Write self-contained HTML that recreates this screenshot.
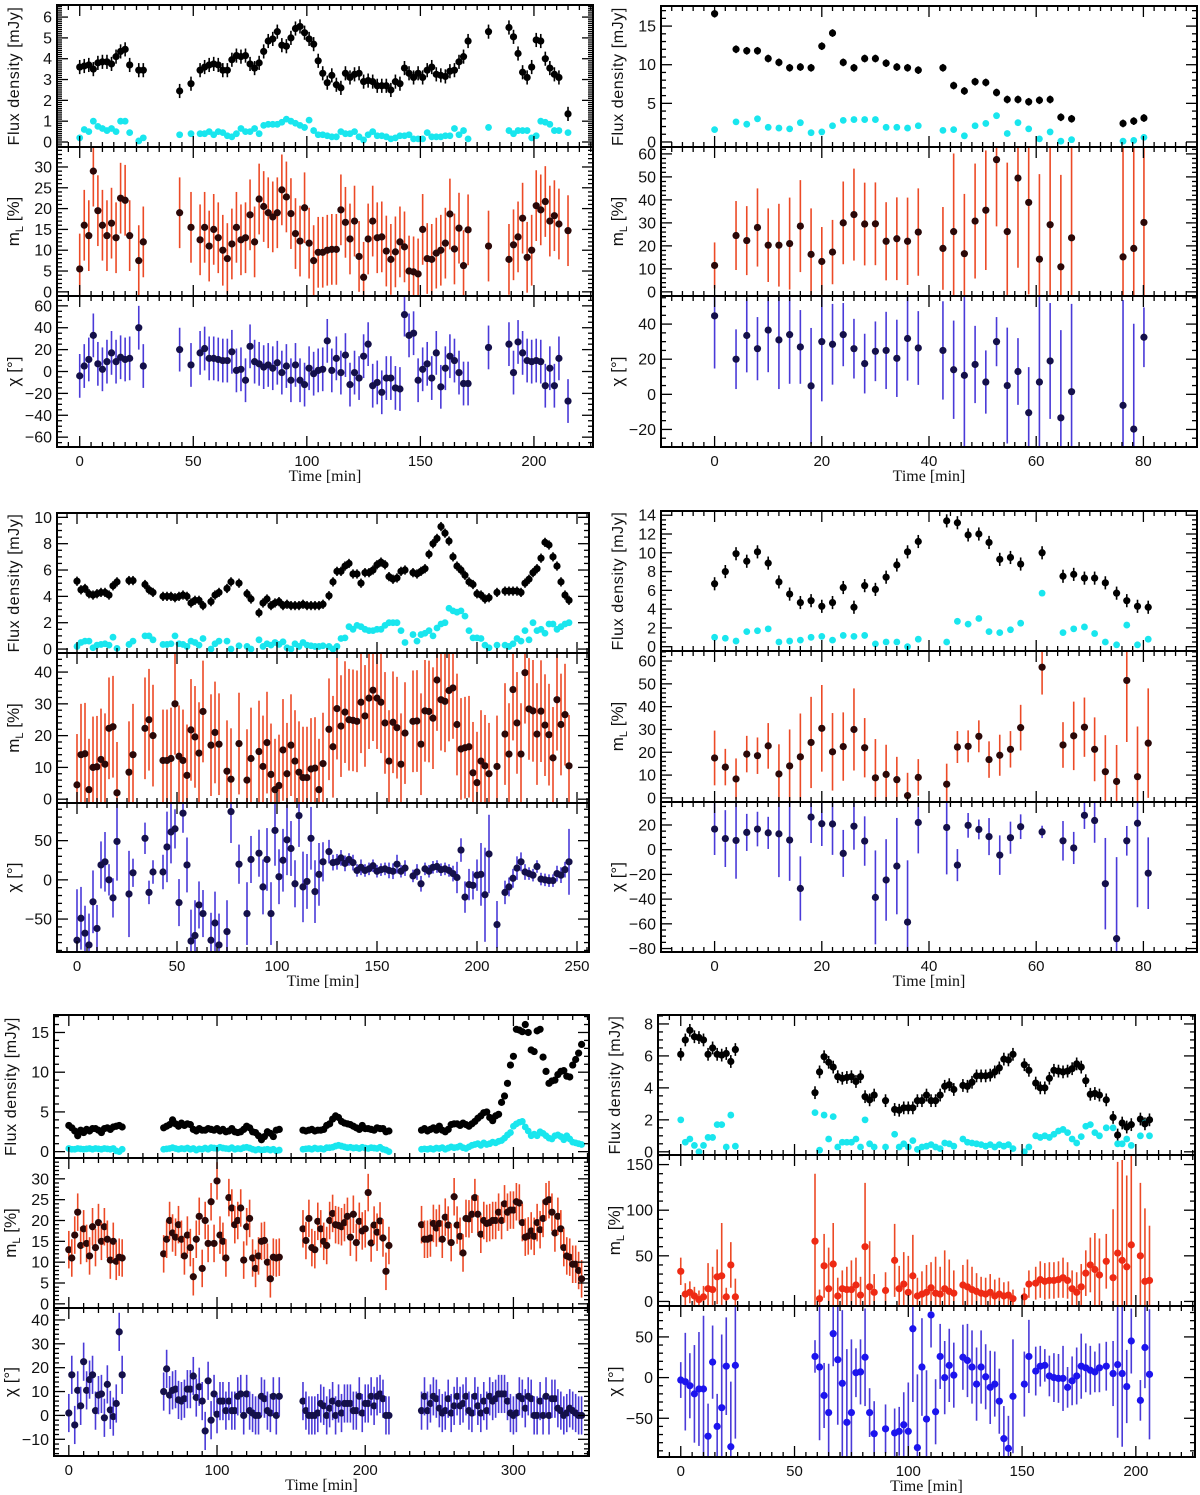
<!DOCTYPE html>
<html><head><meta charset="utf-8">
<style>
html,body{margin:0;padding:0;background:#fff;}
svg{display:block;}
text{font-family:"Liberation Sans",sans-serif;fill:#111;}
.ttl{font-family:"Liberation Serif",serif;}
</style></head>
<body>
<svg id="fig" xmlns="http://www.w3.org/2000/svg" width="1200" height="1495" viewBox="0 0 1200 1495"></svg>
<script>
// ===== Panel A (top-left) =====
const A_t=[0,2,4,6,8,10,12,14,16,18,20,22,26,28,44,49,53,55,57,59,61,63,65,67,69,71,73,75,77,79,81,83,85,87,89,91,93,95,97,99,101,103,105,107,109,111,113,115,117,119,121,123,125,127,129,131,133,135,137,139,141,143,145,147,149,151,153,155,157,159,161,163,165,167,169,171,180,189,191,193,195,197,199,201,203,205,207,209,211,215];
const A_flux=[3.6,3.65,3.7,3.5,3.8,3.85,3.85,3.75,4.1,4.35,4.45,3.7,3.45,3.45,2.45,2.8,
3.45,3.6,3.7,3.75,3.7,3.45,3.45,3.95,4.15,4.1,4.15,3.75,3.55,3.8,4.35,4.85,4.95,5.3,4.65,4.6,5.0,5.45,5.55,5.25,4.95,4.7,3.9,3.3,2.85,3.2,2.75,2.6,3.3,3.1,3.25,3.3,2.9,2.95,2.9,2.7,2.7,2.7,2.5,2.9,2.8,3.55,3.3,3.1,3.3,3.1,3.45,3.6,3.25,3.2,3.15,3.4,3.45,3.85,4.1,4.85,
5.3,5.5,5.05,4.25,3.35,3.1,3.6,4.9,4.85,4.0,3.55,3.25,3.1,1.35];
const A_pf=[0.2,0.6,0.5,1.0,0.75,0.65,0.55,0.65,0.5,1.0,1.0,0.45,0.05,0.2,0.35,0.4,
0.4,0.4,0.5,0.35,0.5,0.45,0.3,0.25,0.4,0.65,0.5,0.5,0.65,0.4,0.8,0.85,0.85,0.85,0.95,1.1,1.0,0.9,0.8,0.7,1.05,0.55,0.35,0.35,0.3,0.25,0.25,0.5,0.4,0.4,0.5,0.25,0.1,0.35,0.5,0.3,0.3,0.25,0.15,0.2,0.3,0.3,0.35,0.15,0.15,0.15,0.45,0.25,0.25,0.25,0.3,0.3,0.65,0.35,0.55,0.15,
0.7,0.55,0.4,0.55,0.55,0.55,0.2,0.3,1.0,0.95,0.85,0.55,0.55,0.45];
const A_ml=[5.5,16,13.5,29,19.5,16,13.5,16.5,13,22.5,22,13.5,7.5,12,19,15.5,
12.5,15.5,11,15,13,10,8,11.5,15.5,12.5,13,18.5,12,22.3,20.5,19,18,19,24.5,22.8,18.8,14,12.2,20.2,11.7,7.5,9.5,9.5,10,10.2,10.2,19.7,16.7,12.7,17,8.5,3.5,12.7,17,13,13.2,9.8,7.8,9.6,12,10.8,5,4.8,4.3,15,8,7.8,9.3,10,11.7,18.7,10.3,15.3,6.3,14.9,
11,7.8,11.3,13.2,17.7,8.3,10,20.7,19.7,21.7,17,18.3,16.3,14.7];
const A_chi=[-4,5,11,33,7,2,9,17,9,13,11,12,40,5,20,6,
17,21,12,12,11,10,10,18,1,2,-8,23,9,7,4,6,3,8,-1,5,-8,6,-8,-12,3,-2,1,2,28,1,12,-1,15,-12,-1,-6,14,25,-13,-10,-19,-6,-6,-15,-16,52,33,35,-8,2,7,-6,17,-14,3,14,10,-1,-11,-11,
22,25,-1,27,17,10,9,10,9,-13,3,-13,12,-27];

// ===== Panel B (top-right) =====
const B_t=[0,4,6,8,10,12,14,16,18,20,22,24,26,28,30,32,34,36,38,42.6,44.6,46.6,48.6,50.6,52.6,54.6,56.6,58.6,60.6,62.6,64.6,66.6,76.2,78.2,80.1];
const B_flux=[16.6,12.0,11.8,11.8,10.8,10.3,9.6,9.7,9.6,12.4,14.1,10.3,9.6,10.8,10.8,10.2,9.7,9.6,9.3,9.6,7.3,6.6,7.8,7.7,6.4,5.5,5.5,5.2,5.4,5.5,3.2,3.0,2.4,2.7,3.1];
const B_pf=[1.6,2.6,2.3,3.0,1.9,1.8,1.7,2.5,1.2,1.3,2.1,2.8,2.9,2.9,2.9,1.9,1.9,1.8,2.1,1.5,1.6,0.8,2.1,2.4,3.4,1.1,2.5,1.7,0.4,1.3,0.1,0.3,0.1,0.2,0.6];
const B_ml=[11.5,24.5,22.3,28,20.3,20.3,21,28.6,16.3,13.2,17.3,30,33.6,29.5,29.6,22,23.1,22,26,18.9,26.2,16.6,30.8,35.5,57.5,26.2,49.5,38.9,14.2,29.2,10.9,23.5,15.2,18.9,30.2];
const B_mlErr=[10,15,15,17,16,18,20,20,20,15,14,18,20,18,18,17,18,19,19,18,34,26,25,26,29,30,39,40,37,40,40,45,50,50,50];
const B_chi=[44.7,20,33.5,26,36.6,31,34,27,4.8,30,28.5,34,26,17.5,24.5,25,20.5,31.8,26.4,25,14,10.8,17,7,30,5,13,-10.5,7,19,-13.4,1.5,-6.3,-19.8,32.5];
const B_chiErr=[30,17,21,18,24,28,28,21,33,34,23,18,17,17,17,22,22,24,21,28,28,45,22,18,14,33,19,26,60,33,50,50,60,60,17];

// ===== Panel C (middle-left) =====
const C_t=[0,2,4,6,8,10,12,14,16,18,20,26,28,34,36,38,43,45,47,49,51,53,55,57,59,61,63,67,69,71,75,77,81,85,87,
91,93,95,97,99,101,103,105,107,109,111,113,115,117,119,121,123,
126,128,130,132,134,136,138,140,142,144,146,148,150,152,154,156,158,160,162,164,
168,170,172,174,176,178,180,182,184,186,188,190,192,194,196,198,200,202,204,206,210,
214,216,218,220,222,224,226,228,230,232,234,236,238,240,242,244,246];
const C_flux=[5.15,4.5,4.6,4.2,4.1,4.2,4.3,4.3,4.1,4.8,5.1,5.2,5.2,4.9,4.5,4.3,4.0,4.0,4.0,3.9,4.0,4.1,4.0,3.5,3.7,3.7,3.3,3.6,4.1,4.3,4.6,5.1,5.0,4.2,3.8,
2.75,3.5,3.8,3.3,3.5,3.6,3.3,3.4,3.3,3.3,3.3,3.4,3.3,3.3,3.3,3.3,3.4,
4.05,5.1,5.9,5.9,6.3,6.5,5.7,5.7,5.0,5.8,5.8,6.0,6.4,6.6,6.4,5.5,5.3,5.4,5.9,6.0,
5.8,5.7,5.9,6.1,7.2,8.0,8.4,9.3,8.8,8.2,7.0,6.3,6.0,5.6,5.1,4.9,4.2,4.1,3.8,3.9,4.3,
4.4,4.4,4.4,4.4,4.3,5.0,5.3,5.8,6.1,6.9,8.1,7.9,7.0,6.3,5.1,4.1,3.7];
const C_pf=[0.2,0.5,0.6,0.6,0.1,0.3,0.35,0.4,0.3,0.9,0.05,0.35,0.6,1.0,1.0,0.7,0.35,0.35,0.4,1.0,0.4,0.35,0.2,0.6,0.5,0.3,0.8,0.0,0.4,0.6,0.6,0.0,0.25,0.2,0.0,
0.7,0.2,0.4,0.3,0.5,0.35,0.55,0.1,0.0,0.4,0.2,0.5,0.3,0.25,0.2,0.2,0.25,
0.2,0.0,0.2,0.8,0.85,1.7,1.5,1.8,1.7,1.5,1.4,1.4,1.5,1.5,1.8,2.0,2.0,2.0,1.4,0.5,
1.1,0.6,1.1,1.2,1.4,1.0,1.6,1.9,2.0,3.1,2.9,2.8,2.9,2.5,1.4,0.85,0.85,0.8,0.3,0.1,0.3,
0.3,0.2,0.4,0.8,0.6,1.4,0.7,2.0,1.4,1.5,1.2,1.9,1.9,1.5,1.7,1.9,2.0];
const C_ml=[4.5,14,14.3,3,10,10.2,12.5,11,22.3,22.8,2,8.5,14,22.3,25,20,12.2,12.2,12.8,30,13.5,12.2,7.5,21.8,19.6,14.5,27.6,17,21,17.3,8.8,6.3,17.5,6,12.8,
15,10.3,17.8,7.8,3,4.3,15.5,8,17,12,8.5,6.8,6.8,9.5,9.8,3,11.2,
22,16.5,28.5,23,27.4,25,24.8,24.5,30.5,26.2,31.8,34.3,31.8,30.5,24,12,24.2,22.5,11,20.8,
24.5,24.6,17.3,27.8,27.6,25.5,37.5,31.3,30.8,34.2,35,23.5,15.8,16.2,16.5,8.3,5.2,12,10.5,8,10.3,
20.5,14.2,34.5,24,14.2,39.8,28.4,27.8,20.5,27.7,23.3,20.3,13,31.3,23.5,26.6,10.5];
const C_chi=[-77,-49,-68,-83,-28,-62,19,23,0,-23,49,-18,9,53,-16,10,10,42,61,65,-29,85,19,-78,-71,-32,-43,-77,-55,-83,-66,87,20,-43,26,
34,-9,26,-43,63,4,25,51,40,-5,82,-9,-2,53,-15,7,23,
36,22,23,28,21,26,22,12,16,12,14,18,11,13,14,12,11,20,11,15,
5,10,-5,14,11,16,17,13,14,12,8,3,38,-22,-6,-7,6,7,-19,33,-57,
-16,-9,2,15,23,10,8,6,17,1,0,-1,-1,8,6,13,23];
const C_chiErr=[65,40,35,40,40,30,30,38,20,25,50,55,18,20,15,15,22,45,40,25,30,25,35,40,45,30,30,35,40,40,40,40,25,40,30,
30,35,40,40,45,35,40,45,35,30,40,45,35,40,40,40,25,
15,10,10,10,10,8,10,8,10,8,8,8,8,8,8,10,10,12,8,10,
8,10,10,8,8,8,8,8,8,8,10,20,15,20,20,18,20,40,60,50,30,
15,12,12,15,12,10,8,8,8,8,8,8,8,10,10,10,42];

// ===== Panel D (middle-right) =====
const D_t=[0,2,4,6,8,10,12,14,16,18,20,22,24,26,28,30,32,34,36,38,43.3,45.3,47.3,49.3,51.2,53.2,55.2,57.1,61.1,65,67,69,70.9,72.9,75,76.9,78.9,80.9];
const D_flux=[6.7,8.0,9.9,9.1,10.1,8.9,6.9,5.6,4.7,4.9,4.3,4.7,6.3,4.2,6.5,6.1,7.4,8.7,10.1,11.2,13.4,13.2,11.9,12.0,11.1,9.3,9.5,8.8,10.0,7.5,7.7,7.3,7.3,6.8,5.7,4.9,4.3,4.2];
const D_pf=[1.0,0.9,0.6,1.6,1.7,1.9,0.5,0.6,0.7,1.0,1.1,0.7,1.2,1.1,1.2,0.3,0.5,0.5,0.0,0.8,0.5,2.7,2.4,3.0,1.6,1.5,1.8,2.5,5.7,1.5,1.9,2.1,1.4,0.5,0.2,2.3,0.2,0.8];
const D_ml=[17.5,13.5,8.3,19.2,18.5,22.8,10.5,14,18,24.3,30.5,20.2,22.5,30,22,8.8,10.3,8,1,9,6,22.3,22.6,27,16.8,18.7,21.3,30.8,57.3,23.2,27.2,31,21.3,11.5,7.2,51.5,9.3,24];
const D_mlErr=[12,8,9,8,8,10,13,16,19,20,19,17,15,18,13,17,13,10,10,8,9,7,7,7,8,9,8,10,12,10,15,13,14,16,16,27,22,24];
const D_chi=[16.7,9,7.5,14,16.7,13.6,12.8,7.8,-31.4,26.4,21,20.8,-3,19,7,-38.6,-24.5,-13.3,-58.6,22,18,-12.5,19.7,16.4,10.6,-4.4,9.7,18.6,14.4,7.2,1.4,27.8,23.6,-27.5,-72,7.2,21.4,-19];
const D_chiErr=[21,23,31,15,14,13,35,33,26,21,18,25,19,19,20,38,33,39,50,25,38,13,10,8,15,16,13,10,5,16,13,11,18,37,66,12,68,29];

// ===== Panel E (bottom-left) =====
const E_t=[0,2,4,6,8,10,12,14,16,18,20,22,24,26,28,30,32,34,36,
64,66,68,70,72,74,76,78,80,82,84,86,88,90,92,94,96,98,100,102,104,106,108,110,112,114,116,118,120,122,124,126,128,130,132,134,136,138,140,142,
158,160,162,164,166,168,170,172,174,176,178,180,182,184,186,188,190,192,194,196,198,200,202,204,206,208,210,212,214,216,
238,240,242,244,246,248,250,252,254,256,258,260,262,264,266,268,270,272,274,276,278,280,282,284,286,288,290,292,294,296,298,300,302,304,306,308,310,312,314,316,318,320,322,324,326,328,330,332,334,336,338,340,342,344,346];
const E_flux=[3.3,3.0,2.6,2.0,2.7,2.4,2.8,2.6,2.9,2.9,2.7,2.4,2.9,3.0,2.8,3.1,3.2,3.3,3.1,
3.0,3.2,3.4,4.0,3.5,3.2,3.6,3.3,3.5,3.4,2.8,2.6,2.9,2.7,2.7,2.9,2.8,2.7,2.9,2.6,2.8,2.5,2.6,2.9,2.5,2.4,2.5,2.8,3.2,3.0,2.5,2.4,2.0,1.5,1.9,2.5,2.3,1.9,2.7,2.8,
2.7,2.6,2.7,2.8,2.6,2.7,2.7,2.8,3.3,3.5,4.1,4.5,4.3,3.8,3.6,3.5,3.4,3.2,3.0,2.8,3.3,2.9,2.9,2.8,2.7,3.0,2.9,2.9,2.5,2.6,
2.7,2.9,2.6,2.8,3.0,2.7,3.2,2.7,2.5,2.8,3.4,3.5,3.5,3.3,3.6,3.4,3.2,3.5,3.8,4.2,4.5,4.9,5.0,4.3,3.9,4.5,4.7,6.2,7.0,8.6,10.9,12.0,15.4,15.3,15.1,16.0,15.0,12.8,12.6,15.2,15.4,11.9,10.1,8.6,8.9,9.0,9.7,10.1,10.2,9.5,9.4,10.9,11.6,12.4,13.5];
const E_pf=[0.4,0.3,0.3,0.4,0.35,0.3,0.35,0.4,0.3,0.4,0.35,0.3,0.4,0.35,0.3,0.4,0.1,0.0,0.3,
0.3,0.35,0.4,0.5,0.4,0.3,0.4,0.35,0.45,0.3,0.4,0.2,0.35,0.3,0.45,0.3,0.5,0.45,0.4,0.55,0.45,0.4,0.35,0.5,0.3,0.4,0.35,0.5,0.55,0.45,0.3,0.2,0.3,0.2,0.25,0.3,0.2,0.3,0.1,0.2,
0.3,0.35,0.4,0.3,0.45,0.35,0.4,0.3,0.5,0.5,0.55,0.7,0.8,0.7,0.6,0.5,0.55,0.45,0.5,0.4,0.55,0.45,0.4,0.5,0.45,0.4,0.55,0.3,0.2,0.0,
0.3,0.35,0.3,0.4,0.3,0.45,0.4,0.5,0.3,0.45,0.6,0.5,0.55,0.7,0.5,0.4,0.6,0.8,0.9,1.0,0.8,1.1,0.9,1.0,1.2,1.1,1.3,1.4,1.7,2.1,2.4,3.2,3.5,3.7,3.8,3.1,2.6,2.0,2.2,2.0,2.5,2.3,2.0,1.7,1.6,2.0,2.1,1.9,1.5,2.0,1.6,1.2,1.1,1.0,0.9];
const E_ml=[13,11,16.5,22,14,18,14.5,11.5,18.5,13.5,19.5,15,18.5,15.5,10.5,15,10.2,11.2,11,
12,15.5,20,17,16,19,15.5,11.5,16.5,13.5,6.5,15.5,21,8.5,20,14.5,24.5,14.5,29.5,16.5,15,11,25.5,23,19,20,23,10.5,18.5,20.5,11,8.5,11.5,15,15.2,10,6,11.2,11,11.2,
18,15.2,20.5,13.5,13,19.8,18,15,14,20,21.7,19,18.8,18.5,19.5,21,16,21.5,14.7,19.8,17.5,18,26.7,14.6,18.9,17.2,19.9,15.8,7.8,14,
19,15.5,15.5,15.8,19.3,18.2,19.3,15.5,20.8,18.9,14.7,25.7,18.9,16.2,12.2,20.5,20.4,21.5,25.5,21.5,16.7,20,19.3,19.5,20,20,22,20,24,22,22.5,22.5,24.5,24.2,19.5,16,16.3,17.5,16.2,19.5,17.8,20.5,24.5,25,22,17,21,18,13.5,11.5,11.2,9.5,9.5,8,6];
const E_chi=[1,17,-4,10.5,4,22.5,10.5,15,17,2,8.5,9,-1,13,2.3,-0.5,5,35,17,
10,19.5,8.5,10.5,11,6.5,6,7,11,11,16.5,7.5,12,6,-6.5,14.5,-2,9,0.5,6,6,2,6,2,2,8,9,0,9,2,1,0,0,8,7,2,1,8,0,8,
6,2,0,0,0,1,5,4,0,3,6,0,5,1,5,5,5,2,2,8,1,5,5,8,4,8,9,7,0,0,
2,8,2,5,8,7,3,1,2,7,1,4,8,4,5,8,2,1,8,4,1,6,2,8,6,7,9,9,9,6,1,0,1,8,7,3,8,7,0,0,6,0,8,0,7,7,3,2,0,1,3,2,1,0,0];

// ===== Panel F (bottom-right) =====
const F_t=[0,2,4,6,8,10,12,14,16,18,20,22,24,
59,61,63,65,67,69,71,73,75,77,79,81,83,85,90,
94,96,98,100,102,104,106,108,110,112,114,116,118,120,124,
126,128,130,132,134,136,138,140,142,144,146,151,153,156,
158,160,162,164,166,168,170,172,174,176,178,180,182,184,187,190,192,194,196,198,202,204,206];
const F_flux=[6.1,7.0,7.6,7.2,7.15,7.0,6.1,6.5,6.1,6.05,6.15,5.65,6.4,
3.7,5.0,5.95,5.6,5.3,4.7,4.6,4.65,4.7,4.4,4.7,3.45,3.25,3.55,3.2,
2.65,2.6,2.75,2.75,2.75,3.2,3.2,3.55,3.2,3.2,3.55,4.1,4.2,3.9,4.15,
4.1,4.35,4.75,4.75,4.75,4.8,5.0,5.25,5.8,5.75,6.1,5.45,5.1,4.3,
4.0,4.0,4.6,5.1,5.05,5.0,5.05,5.2,5.5,5.3,4.45,3.6,3.65,3.55,3.25,2.15,1.05,1.8,1.55,1.7,2.05,1.75,2.0];
const F_pf=[2.0,0.6,0.8,0.4,0.0,0.4,0.9,0.9,1.7,1.7,0.3,2.3,0.35,
2.45,0.1,2.3,0.8,2.2,0.3,0.6,0.6,0.6,0.8,0.3,2.0,0.5,0.3,0.3,
1.1,0.3,0.5,0.3,0.7,0.15,0.3,0.35,0.45,0.3,0.2,0.55,0.5,0.35,0.8,
0.6,0.55,0.5,0.45,0.35,0.45,0.3,0.45,0.35,0.45,0.2,0.0,0.3,1.0,
0.9,1.0,0.9,1.1,1.3,1.4,1.2,0.8,0.55,0.95,1.6,1.7,1.2,1.0,1.5,1.5,0.5,0.5,0.8,0.4,1.0,1.8,1.0];
const F_ml=[33,8,10,6,2,5,14,13,27,28,5,40,5,
66,3,39,14,41,6,14,13,13,18,7,60,16,10,12,
45,14,19,10,28,6,8,10,15,9,8,14,11,9,18,
16,13,11,9,8,10,6,8,6,7,3,5,19,20,
24,22,23,23,24,26,23,14,10,16,31,40,35,29,44,26,53,45,38,62,50,22,23];
const F_mlErr=[15,12,12,10,10,12,28,25,30,58,10,25,20,
74,10,35,45,45,20,20,25,32,30,20,70,50,20,20,
40,25,35,40,45,20,25,30,28,40,30,42,35,25,22,
30,25,20,18,18,20,18,18,15,15,10,10,15,18,
20,20,20,20,20,22,20,20,22,25,25,30,40,40,30,75,100,110,100,120,80,80,60];
const F_chi=[-3,-5,-10,-20,-14,-14,-72,19,-60,-37,14,-85,15,
26,13,-22,-43,54,22,-7,-55,-43,6,7,25,-43,-69,-63,
-68,-66,-58,-66,60,-86,13,-51,77,-42,26,0,15,3,25,
21,13,-8,13,1,-12,-8,-29,-75,-87,-23,-8,26,8,
14,15,2,0,-1,-1,-12,-4,2,14,12,9,7,12,14,5,16,5,-11,45,-28,37,4];
const F_chiErr=[22,60,40,60,70,90,40,45,40,90,60,80,90,
20,90,40,60,40,80,90,90,90,30,40,60,30,40,30,
30,30,40,60,90,90,60,60,40,40,40,45,45,40,40,
45,45,45,45,40,45,40,40,40,40,70,40,45,30,
25,20,25,30,30,40,25,30,35,40,30,30,25,30,30,40,90,90,45,40,25,50,80];

const SVGNS="http://www.w3.org/2000/svg";
const svg=document.getElementById('fig');
function mk(tag,attrs,parent){const e=document.createElementNS(SVGNS,tag);for(const k in attrs)e.setAttribute(k,attrs[k]);(parent||svg).appendChild(e);return e;}

const panels=[
 {id:'a',x0:57,x1:593,xr:[-10,226],xt:[50,5],t:A_t,
  rows:[{y0:5,y1:147,r:[-0.24,6.58],tk:[1,0.1]},{y0:147,y1:296,r:[-1,34.8],tk:[5,1]},{y0:296,y1:447,r:[-69,69],tk:[20,5]}],
  flux:A_flux,fErr:0.34,pf:A_pf,ml:A_ml,mlErr:8.5,chi:A_chi,chiErr:20,mlDot:'#2a0808',chiDot:'#14104a'},
 {id:'b',x0:661,x1:1197,xr:[-10,90],xt:[20,2],t:B_t,
  rows:[{y0:6,y1:147,r:[-0.65,17.6],tk:[5,1]},{y0:147,y1:296,r:[-1.8,63],tk:[10,2]},{y0:296,y1:447,r:[-30,56],tk:[20,5]}],
  flux:B_flux,fErr:0.5,pf:B_pf,ml:B_ml,mlErr:B_mlErr,chi:B_chi,chiErr:B_chiErr,mlDot:'#2a0808',chiDot:'#14104a'},
 {id:'c',x0:57,x1:589,xr:[-10,256],xt:[50,5],t:C_t,
  rows:[{y0:513,y1:653,r:[-0.3,10.33],tk:[2,0.5]},{y0:653,y1:803,r:[-1.2,46],tk:[10,2]},{y0:803,y1:952,r:[-92,98],tk:[50,10]}],
  flux:C_flux,fErr:0.35,pf:C_pf,ml:C_ml,mlErr:16,chi:C_chi,chiErr:C_chiErr,mlDot:'#2a0808',chiDot:'#14104a'},
 {id:'d',x0:661,x1:1197,xr:[-10,90],xt:[20,2],t:D_t,
  rows:[{y0:511,y1:651,r:[-0.46,14.45],tk:[2,0.5]},{y0:651,y1:802,r:[-1.8,64.4],tk:[10,2]},{y0:802,y1:952,r:[-82.8,38.6],tk:[20,5]}],
  flux:D_flux,fErr:0.7,pf:D_pf,ml:D_ml,mlErr:D_mlErr,chi:D_chi,chiErr:D_chiErr,mlDot:'#2a0808',chiDot:'#14104a'},
 {id:'e',x0:54,x1:589,xr:[-10,351],xt:[100,10],t:E_t,
  rows:[{y0:1015,y1:1158,r:[-0.8,17.2],tk:[5,1]},{y0:1158,y1:1308,r:[-1,35],tk:[5,1]},{y0:1308,y1:1456,r:[-17,45],tk:[10,2]}],
  flux:E_flux,fErr:0,pf:E_pf,ml:E_ml,mlErr:4.5,chi:E_chi,chiErr:8,mlDot:'#2a0808',chiDot:'#14104a'},
 {id:'f',x0:658,x1:1195,xr:[-10,226],xt:[50,5],t:F_t,
  rows:[{y0:1015,y1:1155,r:[-0.2,8.56],tk:[2,0.5]},{y0:1155,y1:1306,r:[-5,160.5],tk:[50,10]},{y0:1306,y1:1457,r:[-97.6,88],tk:[50,10]}],
  flux:F_flux,fErr:0.4,pf:F_pf,ml:F_ml,mlErr:F_mlErr,chi:F_chi,chiErr:F_chiErr,mlDot:'#ee2a14',chiDot:'#1c14ee'}
];

function fmt(v){return Math.abs(v)<1e-9?'0':(Math.round(v*1000)/1000).toString().replace('-','\u2212');}
function ev(e,i){return Array.isArray(e)?e[i]:e;}

panels.forEach(P=>{
  const g=mk('g',{});
  
  
  const sx=t=>P.x0+(t-P.xr[0])/(P.xr[1]-P.xr[0])*(P.x1-P.x0);
  const subNames=['flux-density','polarization-degree','polarization-angle'];
  P.rows.forEach((R,k)=>{
    const sy=v=>R.y1-(v-R.r[0])/(R.r[1]-R.r[0])*(R.y1-R.y0);
    const sg=mk('g',{},g);
    
    
    const cid='clip-'+P.id+k;
    const cp=mk('clipPath',{id:cid},sg);
    mk('rect',{x:P.x0,y:R.y0,width:P.x1-P.x0,height:R.y1-R.y0},cp);
    const dg=mk('g',{'clip-path':'url(#'+cid+')'},sg);
    
    
    if(k===0){
      P.t.forEach((t,i)=>{
        const x=sx(t);
        if(P.fErr>0){
          const ln=mk('line',{x1:x,x2:x,y1:sy(P.flux[i]-P.fErr),y2:sy(P.flux[i]+P.fErr),stroke:'#000','stroke-width':1.6},dg);
          
          
        }
        const c=mk('circle',{cx:x,cy:sy(P.pf[i]),r:3.4,fill:'#19e6ee'},dg);
        
        
        const d=mk('circle',{cx:x,cy:sy(P.flux[i]),r:3.6,fill:'#000'},dg);
        
        
      });
    } else {
      const vals=k===1?P.ml:P.chi, errs=k===1?P.mlErr:P.chiErr;
      const ecol=k===1?'#ec4a26':'#4a3ad8', dcol=k===1?P.mlDot:P.chiDot;
      P.t.forEach((t,i)=>{
        const x=sx(t), e=ev(errs,i);
        const ln=mk('line',{x1:x,x2:x,y1:sy(vals[i]-e),y2:sy(vals[i]+e),stroke:ecol,'stroke-width':1.6},dg);
        
        
        const d=mk('circle',{cx:x,cy:sy(vals[i]),r:3.6,fill:dcol},dg);
        
        
      });
    }
    const fr=mk('rect',{x:P.x0,y:R.y0,width:P.x1-P.x0,height:R.y1-R.y0,fill:'none',stroke:'#000','stroke-width':2},sg);
    
    
    const tg=mk('g',{stroke:'#000','stroke-width':1.3},sg);
    
    
    const [maj,mn]=R.tk;
    for(let v=Math.ceil(R.r[0]/mn)*mn; v<=R.r[1]+1e-9; v+=mn){
      const vv=Math.round(v/mn)*mn, y=sy(vv);
      const isMaj=Math.abs(vv/maj-Math.round(vv/maj))<1e-6;
      const L=isMaj?11:5;
      mk('line',{x1:P.x0,x2:P.x0+L,y1:y,y2:y},tg);
      mk('line',{x1:P.x1,x2:P.x1-L,y1:y,y2:y},tg);
      if(isMaj && y>R.y0+4 && y<R.y1-3){
        const tx=mk('text',{x:P.x0-5,y:y+5.5,'text-anchor':'end','font-size':16},sg);
        tx.textContent=fmt(vv);
        
        
      }
    }
    const xg=mk('g',{stroke:'#000','stroke-width':1.3},sg);
    
    
    const [xmaj,xmn]=P.xt;
    for(let v=Math.ceil(P.xr[0]/xmn)*xmn; v<=P.xr[1]+1e-9; v+=xmn){
      const vv=Math.round(v/xmn)*xmn, x=sx(vv);
      const isMaj=Math.abs(vv/xmaj-Math.round(vv/xmaj))<1e-6;
      const L=isMaj?11:5;
      mk('line',{x1:x,x2:x,y1:R.y1,y2:R.y1-L},xg);
      mk('line',{x1:x,x2:x,y1:R.y0,y2:R.y0+L},xg);
      if(k===2 && isMaj){
        const tx=mk('text',{x:x,y:R.y1+19,'text-anchor':'middle','font-size':15},sg);
        tx.textContent=fmt(vv);
        
        
      }
    }
    const ly=(R.y0+R.y1)/2, lx=P.x0-38;
    const yl=mk('text',{x:lx,y:ly,'text-anchor':'middle','font-size':17,transform:'rotate(-90 '+lx+' '+ly+')'},sg);
    
    
    if(k===0){yl.textContent='Flux density [mJy]';yl.setAttribute('letter-spacing','0.6');yl.setAttribute('font-size','16');}
    else if(k===1){yl.textContent='m';const s=mk('tspan',{'font-size':11,dy:4},yl);s.textContent='L';const s2=mk('tspan',{dy:-4},yl);s2.textContent=' [%]';}
    else {yl.textContent='\u03c7 [\u00b0]';}
    if(k===2){
      const xl=mk('text',{x:(P.x0+P.x1)/2,y:R.y1+34,'text-anchor':'middle','font-size':16,'class':'ttl'},sg);
      xl.textContent='Time [min]';
      
      
    }
  });
});
</script>
</body></html>
